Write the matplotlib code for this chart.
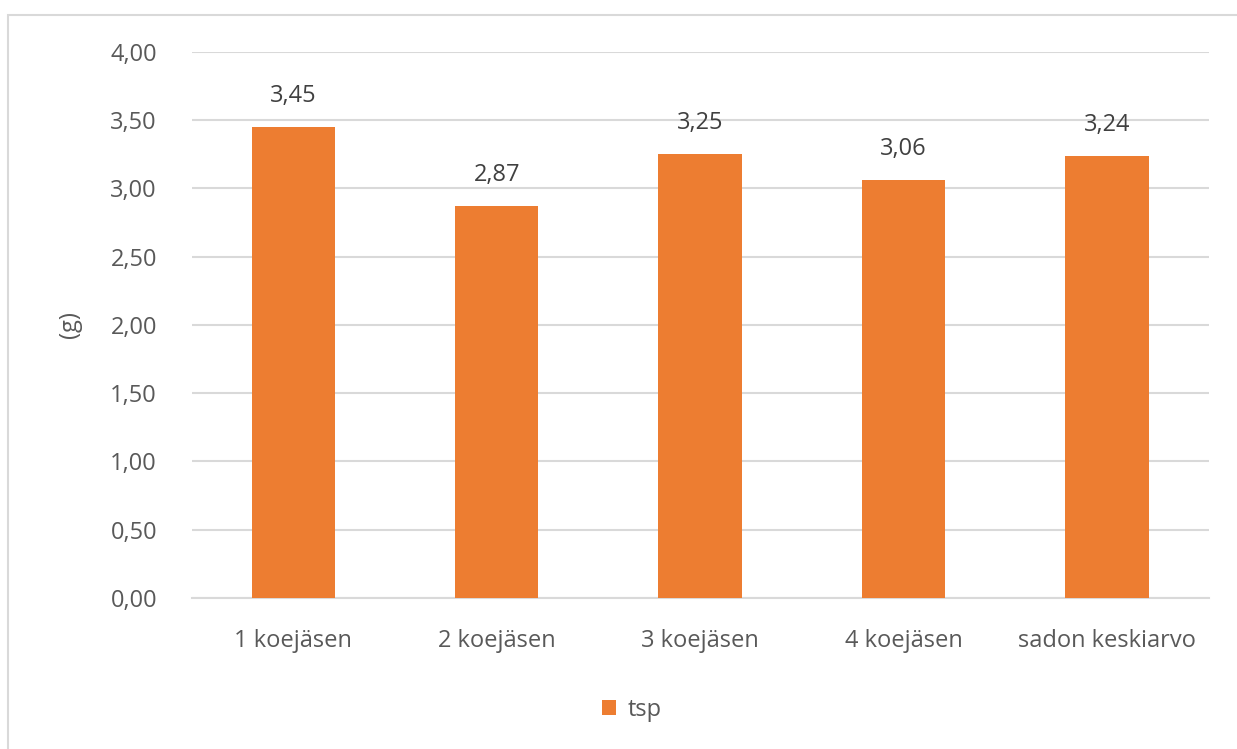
import matplotlib
matplotlib.use("Agg")
import matplotlib.pyplot as plt
from matplotlib.patches import Rectangle

categories = ["1 koejäsen", "2 koejäsen", "3 koejäsen", "4 koejäsen", "sadon keskiarvo"]
values = [3.45, 2.87, 3.25, 3.06, 3.24]
series_name = "tsp"
yticks = [0, 0.5, 1.0, 1.5, 2.0, 2.5, 3.0, 3.5, 4.0]

orange = "#ED7D31"
txt = "#595959"
grid = "#D9D9D9"

plt.rcParams["font.family"] = ["Open Sans", "DejaVu Sans"]

fig = plt.figure(figsize=(12.37, 7.49), dpi=100)
ax = fig.add_axes([0.155, 0.2016, 0.822, 0.729])

x = list(range(len(categories)))
bars = ax.bar(x, values, width=0.41, color=orange, zorder=3, label=series_name)

for xi, v in zip(x, values):
    ax.text(xi, v + 0.14, f"{v:.2f}".replace(".", ","), ha="center", va="bottom",
            fontsize=17, color="#404040")

ax.set_xlim(-0.5, len(categories) - 0.5)
ax.set_ylim(0, 4)
ax.set_yticks(yticks)
ax.set_yticklabels([f"{t:.2f}".replace(".", ",") for t in yticks])
ax.set_xticks(x)
ax.set_xticklabels(categories)
ax.tick_params(axis="both", length=0, labelsize=17, labelcolor=txt)
ax.tick_params(axis="x", pad=22)
ax.tick_params(axis="y", pad=25)
ax.grid(axis="y", color=grid, linewidth=1.5, zorder=0)
for s in ["top", "right", "left"]:
    ax.spines[s].set_visible(False)
ax.spines["bottom"].set_color(grid)
ax.spines["bottom"].set_linewidth(1.5)
ax.set_ylabel("(g)", fontsize=17, color=txt, labelpad=20)

fig.legend(handles=[bars], labels=[series_name], loc="center",
           bbox_to_anchor=(0.511, 0.052), frameon=False, fontsize=17,
           labelcolor=txt, handlelength=0.6, handleheight=0.6, handletextpad=0.5)

fig.patches.append(Rectangle((8 / 1237, -0.1), 1.2, 1 - 15 / 749 + 0.1,
                             transform=fig.transFigure, fill=False,
                             edgecolor=grid, linewidth=1.5))

fig.savefig("out.png", dpi=100)
